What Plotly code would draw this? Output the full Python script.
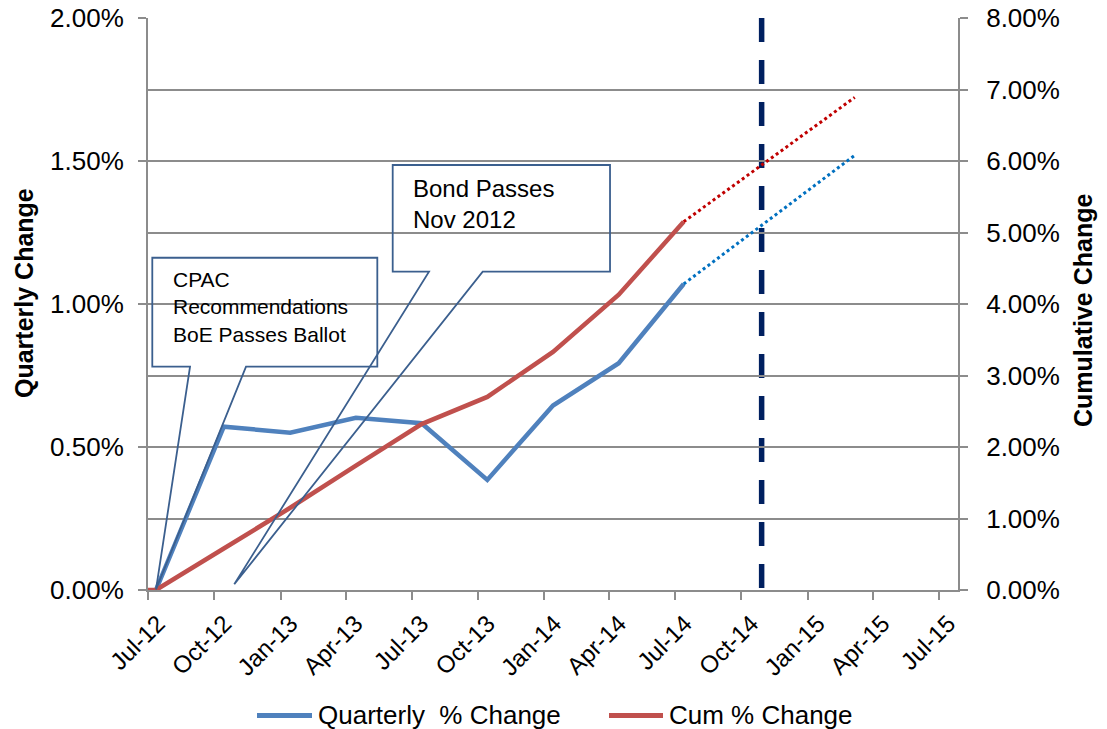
import plotly.graph_objects as go

# ---- data -------------------------------------------------------------
q_dates = ["2012-07-12", "2012-10-14", "2013-01-14", "2013-04-15", "2013-07-15",
           "2013-10-14", "2014-01-13", "2014-04-14", "2014-07-13"]
quarterly_pct = [0.00, 0.571, 0.550, 0.602, 0.583, 0.385, 0.645, 0.793, 1.07]

cum_dates = ["2012-07-01"] + q_dates
cumulative_pct = [0.00, 0.00, 0.58, 1.15, 1.74, 2.32, 2.70, 3.33, 4.13, 5.15]

proj_dates = ["2014-07-13", "2015-03-07"]
quarterly_proj = [1.07, 1.52]
cumulative_proj = [5.15, 6.89]

marker_date = "2014-10-29"

x_range = ["2012-07-01", "2015-07-28"]
tick_dates = ["2012-07-01", "2012-10-01", "2013-01-01", "2013-04-01", "2013-07-01",
              "2013-10-01", "2014-01-01", "2014-04-01", "2014-07-01", "2014-10-01",
              "2015-01-01", "2015-04-01", "2015-07-01"]
tick_labels = ["Jul-12", "Oct-12", "Jan-13", "Apr-13", "Jul-13", "Oct-13", "Jan-14",
               "Apr-14", "Jul-14", "Oct-14", "Jan-15", "Apr-15", "Jul-15"]

series_names = ["Quarterly  % Change", "Cum % Change"]

# ---- styling ----------------------------------------------------------
FONT = "Liberation Sans, Arial, sans-serif"
BLUE = "#4F81BD"
RED = "#C0504D"
GRID = "#8C8C8C"
CALLOUT = "#3B5F8E"

W, H = 1107, 729
ML, MR, MT, MB = 148, 149, 18, 139
PW, PH = W - ML - MR, H - MT - MB


def px(x):
    return (x - ML) / PW


def py(y):
    return (H - MB - y) / PH


fig = go.Figure()

fig.add_trace(go.Scatter(x=q_dates, y=quarterly_pct, mode="lines", name=series_names[0],
                         line=dict(color=BLUE, width=4.5), yaxis="y"))
fig.add_trace(go.Scatter(x=cum_dates, y=cumulative_pct, mode="lines", name=series_names[1],
                         line=dict(color=RED, width=4.5), yaxis="y2"))
fig.add_trace(go.Scatter(x=proj_dates, y=quarterly_proj, mode="lines", showlegend=False,
                         line=dict(color="#0070C0", width=3, dash="dot"), yaxis="y"))
fig.add_trace(go.Scatter(x=proj_dates, y=cumulative_proj, mode="lines", showlegend=False,
                         line=dict(color="#C00000", width=3, dash="dot"), yaxis="y2"))

shapes = []
# vertical dashed marker
shapes.append(dict(type="line", xref="x", yref="paper", x0=marker_date, x1=marker_date,
                   y0=1, y1=0, layer="between",
                   line=dict(color="#002060", width=5.5, dash="24px,18px")))


def callout(box, base, tip):
    (x0, y0, x1, y1), (b0, b1), (tx, ty) = box, base, tip
    path = (f"M{px(b1):.4f},{py(y1):.4f} L{px(x1):.4f},{py(y1):.4f} "
            f"L{px(x1):.4f},{py(y0):.4f} L{px(x0):.4f},{py(y0):.4f} "
            f"L{px(x0):.4f},{py(y1):.4f} L{px(b0):.4f},{py(y1):.4f} "
            f"L{px(tx):.4f},{py(ty):.4f} Z")
    return dict(type="path", xref="paper", yref="paper", path=path, layer="above",
                line=dict(color=CALLOUT, width=1.8), fillcolor="rgba(0,0,0,0)")


shapes.append(callout((152.3, 257.7, 377.3, 366.7), (190, 246), (156, 589.3)))
shapes.append(callout((392.7, 165.0, 610.0, 271.7), (429, 482.7), (234.3, 584.3)))

# legend samples
shapes.append(dict(type="line", xref="paper", yref="paper", x0=px(257), x1=px(312),
                   y0=py(715.5), y1=py(715.5), line=dict(color=BLUE, width=5)))
shapes.append(dict(type="line", xref="paper", yref="paper", x0=px(609), x1=px(663),
                   y0=py(715.5), y1=py(715.5), line=dict(color=RED, width=5)))

annotations = [
    dict(text="CPAC<br>Recommendations<br>BoE Passes Ballot", xref="paper", yref="paper",
         x=px(171), y=py(307), xanchor="left", yanchor="middle", align="left",
         showarrow=False, font=dict(family=FONT, size=21, color="#000000")),
    dict(text="Bond Passes<br>Nov 2012", xref="paper", yref="paper",
         x=px(411), y=py(204), xanchor="left", yanchor="middle", align="left",
         showarrow=False, font=dict(family=FONT, size=24, color="#000000")),
    dict(text="<b>Quarterly Change</b>", xref="paper", yref="paper", x=px(24), y=py(293),
         xanchor="center", yanchor="middle", textangle=-90, showarrow=False,
         font=dict(family=FONT, size=25, color="#000000")),
    dict(text="<b>Cumulative Change</b>", xref="paper", yref="paper", x=px(1083), y=py(311),
         xanchor="center", yanchor="middle", textangle=-90, showarrow=False,
         font=dict(family=FONT, size=25, color="#000000")),
    dict(text=series_names[0], xref="paper", yref="paper", x=px(316), y=py(715),
         xanchor="left", yanchor="middle", showarrow=False,
         font=dict(family=FONT, size=26, color="#000000")),
    dict(text=series_names[1], xref="paper", yref="paper", x=px(667), y=py(715),
         xanchor="left", yanchor="middle", showarrow=False,
         font=dict(family=FONT, size=26, color="#000000")),
]

tick_font = dict(family=FONT, size=26, color="#000000")

fig.update_layout(
    width=W, height=H,
    margin=dict(l=ML, r=MR, t=MT, b=MB, pad=0, autoexpand=False),
    paper_bgcolor="white", plot_bgcolor="white",
    showlegend=False,
    shapes=shapes, annotations=annotations,
    xaxis=dict(type="date", range=x_range, tickvals=tick_dates, ticktext=tick_labels,
               tickangle=-45, tickfont=dict(family=FONT, size=24, color="#000000"),
               ticks="outside", ticklen=8, tickwidth=2,
               tickcolor=GRID, showline=True, linecolor=GRID, linewidth=2,
               showgrid=False, zeroline=False, automargin=False,
               ticklabelstandoff=0, ticklabelshift=10),
    yaxis=dict(range=[0, 2], dtick=0.5, tick0=0, tickformat=".2f", ticksuffix="%",
               tickfont=tick_font, ticks="outside", ticklen=8, tickwidth=2, tickcolor=GRID,
               showline=True, linecolor=GRID, linewidth=2, showgrid=False, zeroline=False,
               automargin=False, ticklabelstandoff=9),
    yaxis2=dict(range=[0, 8], dtick=1, tick0=0, tickformat=".2f", ticksuffix="%",
                overlaying="y", side="right", tickfont=tick_font, ticks="outside",
                ticklen=8, tickwidth=2, tickcolor=GRID, showline=True, linecolor=GRID,
                linewidth=2, showgrid=True, gridcolor=GRID, gridwidth=2, zeroline=False,
                automargin=False, ticklabelstandoff=13),
)

fig.write_html("out.html")
